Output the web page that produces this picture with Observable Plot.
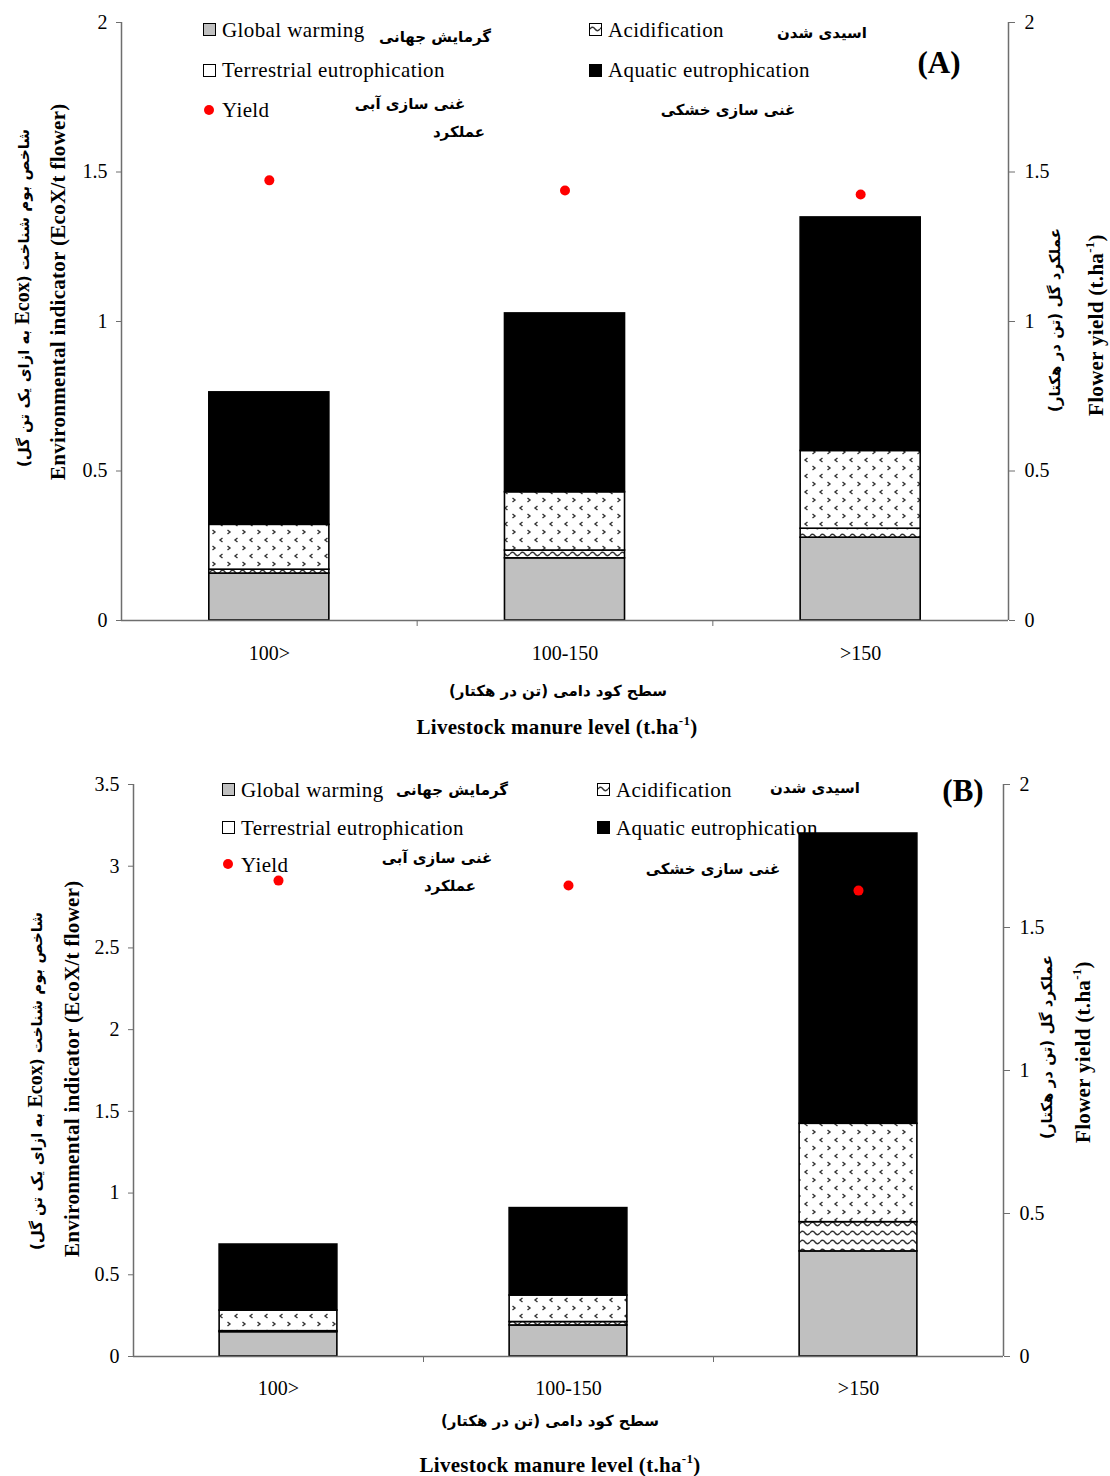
<!DOCTYPE html>
<html>
<head>
<meta charset="utf-8">
<script src="https://cdn.jsdelivr.net/npm/d3@7"></script>
<script src="https://cdn.jsdelivr.net/npm/@observablehq/plot@0.6"></script>
<style>
  html, body { margin: 0; padding: 0; background: #fff; }
  #root { position: relative; width: 1110px; height: 1476px; overflow: hidden; background: #fff; font-family: "Liberation Serif", serif; color: #000; }
  .abs { position: absolute; white-space: nowrap; line-height: 1; }
  .fa { font-family: "DejaVu Sans", sans-serif; font-weight: bold; font-size: 15px; direction: rtl; }
  .leg { font-size: 21px; letter-spacing: 0.4px; }
  .sw { position: absolute; width: 11px; height: 11px; border: 1px solid #000; box-sizing: content-box; }
  .dot { position: absolute; width: 10px; height: 10px; border-radius: 50%; background: #ff0000; }
  .en-b { font-weight: bold; font-size: 21px; letter-spacing: 0.3px; }
  sup { font-size: 13px; vertical-align: 9px; line-height: 0; }
</style>
</head>
<body>
<div id="root">
<svg width="0" height="0" style="position:absolute">
  <defs>
    <pattern id="pAcid" patternUnits="userSpaceOnUse" width="10" height="9">
      <rect width="10" height="9" fill="#fff"/>
      <path d="M0,5 Q2.5,1.5 5,5 T10,5" fill="none" stroke="#333" stroke-width="1.4"/>
    </pattern>
    <pattern id="pTerr" patternUnits="userSpaceOnUse" width="15" height="16">
      <rect width="15" height="16" fill="#fff"/>
      <path d="M2.5,2 L5,4 L2.5,6" fill="none" stroke="#333" stroke-width="1.4"/>
      <path d="M12.5,10 L10,12 L12.5,14" fill="none" stroke="#333" stroke-width="1.4"/>
    </pattern>
  </defs>
</svg>
</div>
<script>
// ---------- DATA ----------
const categories = ["100>", "100-150", ">150"];
const seriesNames = ["Global warming", "Acidification", "Terrestrial eutrophication", "Aquatic eutrophication"];

// Panel A
const globalWarmingA = [0.157, 0.208, 0.277];
const acidificationA = [0.013, 0.026, 0.030];
const terrestrialA   = [0.150, 0.195, 0.260];
const aquaticA       = [0.443, 0.598, 0.781];
const yieldA         = [1.472, 1.438, 1.425];
const leftTicksA  = [0, 0.5, 1, 1.5, 2];
const rightTicksA = [0, 0.5, 1, 1.5, 2];

// Panel B
const globalWarmingB = [0.149, 0.190, 0.643];
const acidificationB = [0.006, 0.021, 0.179];
const terrestrialB   = [0.126, 0.162, 0.602];
const aquaticB       = [0.404, 0.535, 1.776];
const yieldB         = [1.664, 1.647, 1.629];
const leftTicksB  = [0, 0.5, 1, 1.5, 2, 2.5, 3, 3.5];
const rightTicksB = [0, 0.5, 1, 1.5, 2];

const fills = ["#c0c0c0", "url(#pAcid)", "url(#pTerr)", "#000000"];

function buildRows(gw, acid, terr, aqua) {
  const cols = [gw, acid, terr, aqua];
  const rows = [];
  categories.forEach((c, i) => {
    let y0 = 0;
    seriesNames.forEach((s, j) => {
      const v = cols[j][i];
      rows.push({i, category: c, series: s, y1: y0, y2: y0 + v});
      y0 += v;
    });
  });
  return rows;
}

function panel(cfg) {
  const rows = buildRows(cfg.gw, cfg.acid, cfg.terr, cfg.aqua);
  const leftMax = cfg.leftTicks[cfg.leftTicks.length - 1];
  const rightMax = cfg.rightTicks[cfg.rightTicks.length - 1];
  const k = leftMax / rightMax;
  const hw = 0.203;
  const axisColor = "#6e6e6e";
  return Plot.plot({
    width: 1110,
    height: cfg.height,
    marginTop: cfg.marginTop,
    marginBottom: cfg.marginBottom,
    marginLeft: cfg.marginLeft,
    marginRight: cfg.marginRight,
    x: {type: "linear", domain: [-0.5, 2.5], axis: null},
    y: {domain: [0, leftMax], axis: null},
    color: {type: "ordinal", domain: seriesNames, range: fills},
    style: {fontFamily: "Liberation Serif, serif", fontSize: "20px", color: "#000", background: "transparent", overflow: "visible"},
    marks: [
      Plot.rect(rows, {x1: d => d.i - hw, x2: d => d.i + hw, y1: "y1", y2: "y2", fill: "series", stroke: "#000", strokeWidth: 1.6}),
      Plot.ruleY([0], {stroke: axisColor, strokeWidth: 1.5}),
      Plot.ruleX([-0.5], {stroke: axisColor, strokeWidth: 1.5}),
      Plot.ruleX([2.5], {stroke: axisColor, strokeWidth: 1.5}),
      Plot.axisY(cfg.leftTicks, {anchor: "left", tickSize: 5, tickPadding: 9, stroke: axisColor, tickFormat: d => String(d), label: null}),
      Plot.axisY(cfg.rightTicks.map(v => v * k), {anchor: "right", tickSize: 6, tickPadding: 10, stroke: axisColor, tickFormat: d => String(+(d / k).toFixed(3)), label: null}),
      Plot.axisX([0.5, 1.5], {anchor: "bottom", tickSize: 6, stroke: axisColor, tickFormat: () => "", label: null}),
      Plot.axisX([0, 1, 2], {anchor: "bottom", tickSize: 0, tickPadding: cfg.tickPadding, tickFormat: i => categories[i], label: null}),
      Plot.dot(cfg.yld.map((v, i) => ({i, v})), {x: "i", y: d => d.v * k, r: 5, fill: "#ff0000", stroke: "none"})
    ]
  });
}

const root = document.getElementById("root");

function addSvg(svg, top) {
  svg.style.position = "absolute";
  svg.style.left = "0px";
  svg.style.top = top + "px";
  root.appendChild(svg);
}

addSvg(panel({gw: globalWarmingA, acid: acidificationA, terr: terrestrialA, aqua: aquaticA, yld: yieldA,
  leftTicks: leftTicksA, rightTicks: rightTicksA, height: 670, marginTop: 22, marginBottom: 50,
  marginLeft: 121, marginRight: 102, tickPadding: 25}), 0);

addSvg(panel({gw: globalWarmingB, acid: acidificationB, terr: terrestrialB, aqua: aquaticB, yld: yieldB,
  leftTicks: leftTicksB, rightTicks: rightTicksB, height: 640, marginTop: 24, marginBottom: 44,
  marginLeft: 133, marginRight: 107, tickPadding: 24}), 760);

// ---------- overlays ----------
function el(html, cls, style) {
  const d = document.createElement("div");
  d.className = cls;
  d.innerHTML = html;
  Object.assign(d.style, style);
  root.appendChild(d);
  return d;
}
function textL(html, x, cy, cls = "abs leg") {
  return el(html, cls, {left: x + "px", top: cy + "px", transform: "translateY(-50%)"});
}
function textC(html, cx, cy, cls) {
  return el(html, "abs " + cls, {left: cx + "px", top: cy + "px", transform: "translate(-50%,-50%)"});
}
function vtextC(html, cx, cy, cls) {
  return el(html, "abs " + cls, {left: cx + "px", top: cy + "px", transform: "translate(-50%,-50%) rotate(-90deg)"});
}
// rotated text whose start sits at (cx, yBottom) and runs upward
function vtextB(html, cx, yBottom, cls) {
  return el(html, "abs " + cls, {left: cx + "px", top: yBottom + "px", transformOrigin: "0 0", transform: "rotate(-90deg) translate(0,-50%)"});
}
function swatch(x, y, kind) {
  const s = document.createElement("div");
  s.className = "sw";
  Object.assign(s.style, {left: x + "px", top: y + "px"});
  if (kind === 0) s.style.background = "#c0c0c0";
  else if (kind === 3) s.style.background = "#000";
  else if (kind === 1) s.innerHTML = '<svg width="11" height="11" style="display:block"><rect width="11" height="11" fill="url(#pAcid)"/></svg>';
  else s.style.background = "#fff";
  root.appendChild(s);
}
function dot(cx, cy) {
  const d = document.createElement("div");
  d.className = "dot";
  Object.assign(d.style, {left: (cx - 5) + "px", top: (cy - 5) + "px"});
  root.appendChild(d);
}

const faLeft = 'شاخص بوم شناخت (<span style="font-family:Liberation Serif,serif;font-size:20px">Ecox</span> به ازای یک تن گل)';
const faRight = 'عملکرد گل (تن در هکتار)';
const faX = 'سطح کود دامی (تن در هکتار)';
const enLeft = 'Environmental indicator (EcoX/t flower)';
const enRight = 'Flower yield (t.ha<sup>-1</sup>)';
const enX = 'Livestock manure level (t.ha<sup>-1</sup>)';

// Panel A legend
swatch(203, 23, 0); textL("Global warming", 222, 30);
swatch(589, 23, 1); textL("Acidification", 608, 30);
swatch(203, 64, 2); textL("Terrestrial eutrophication", 222, 70);
swatch(589, 64, 3); textL("Aquatic eutrophication", 608, 70);
dot(209, 110); textL("Yield", 222, 110);
textC("گرمایش جهانی", 435, 37, "fa");
textC("اسیدی شدن", 822, 33, "fa");
textC("غنی سازی آبی", 410, 104, "fa");
textC("عملکرد", 459, 132, "fa");
textC("غنی سازی خشکی", 728, 110, "fa");
textC("(A)", 939, 62, "").style.cssText += "font-weight:bold;font-size:31px;";

// Panel A axis titles
vtextC(faLeft, 22, 298, "fa");
vtextB(enLeft, 58, 480, "en-b");
vtextC(faRight, 1055, 320, "fa");
vtextC(enRight, 1096, 325, "en-b");
textC(faX, 558, 691, "fa");
textC(enX, 557, 727, "en-b");

// Panel B legend
swatch(222, 783, 0); textL("Global warming", 241, 790);
swatch(597, 783, 1); textL("Acidification", 616, 790);
swatch(222, 821, 2); textL("Terrestrial eutrophication", 241, 828);
swatch(597, 821, 3); textL("Aquatic eutrophication", 616, 828);
dot(228, 864); textL("Yield", 241, 865);
textC("گرمایش جهانی", 452, 790, "fa");
textC("اسیدی شدن", 815, 788, "fa");
textC("غنی سازی آبی", 437, 858, "fa");
textC("عملکرد", 450, 886, "fa");
textC("غنی سازی خشکی", 713, 869, "fa");
textC("(B)", 963, 790, "").style.cssText += "font-weight:bold;font-size:31px;";

// Panel B axis titles
vtextC(faLeft, 35, 1081, "fa");
vtextB(enLeft, 72, 1257, "en-b");
vtextC(faRight, 1047, 1047, "fa");
vtextC(enRight, 1083, 1052, "en-b");
textC(faX, 550, 1421, "fa");
textC(enX, 560, 1465, "en-b");
</script>
</body>
</html>
